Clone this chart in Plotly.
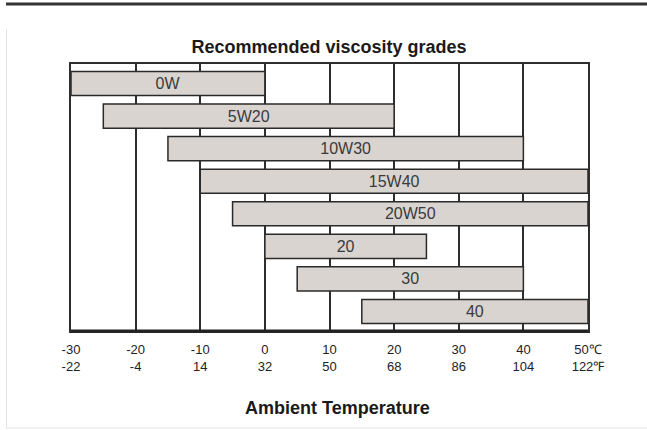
import plotly.graph_objects as go

grades = ["0W", "5W20", "10W30", "15W40", "20W50", "20", "30", "40"]
low_c = [-30, -25, -15, -10, -5, 0, 5, 15]
high_c = [0, 20, 40, 50, 50, 25, 40, 50]
tick_c = [-30, -20, -10, 0, 10, 20, 30, 40, 50]
tick_labels = ["-30<br>-22", "-20<br>-4", "-10<br>14", "0<br>32", "10<br>50",
               "20<br>68", "30<br>86", "40<br>104", "50℃<br>122℉"]

W, H = 647, 430
L, R, T, B = 71, 59, 64, 99
pw, ph = W - L - R, H - T - B

def px(x):
    return (x - L) / pw

def py(y):
    return (H - B - y) / ph

fig = go.Figure()
fig.add_trace(go.Bar(
    y=grades,
    x=[h - l for l, h in zip(low_c, high_c)],
    base=low_c,
    orientation="h",
    width=0.74,
    marker=dict(color="#d9d4d0", line=dict(color="#2a2a2a", width=1.5)),
    text=grades,
    textposition="inside",
    insidetextanchor="middle",
    constraintext="none",
    textangle=0,
    textfont=dict(family="Liberation Sans, Arial", size=16, color="#3a3a3a"),
    hoverinfo="skip",
))

fig.update_layout(
    width=W, height=H,
    margin=dict(l=L, r=R, t=T, b=B),
    paper_bgcolor="white",
    plot_bgcolor="white",
    showlegend=False,
    font=dict(family="Liberation Sans, Arial", color="#222222"),
    title=dict(text="<b>Recommended viscosity grades</b>", x=px(329), xref="paper",
               xanchor="center", y=1 - 47 / H, yref="container", yanchor="middle",
               font=dict(size=18, color="#1a1a1a")),
    xaxis=dict(range=[-30, 50], tickvals=tick_c, ticktext=tick_labels,
               showgrid=True, gridcolor="#2e2e2e", gridwidth=1.5,
               zeroline=False, showline=True, linecolor="#2e2e2e", linewidth=2,
               mirror=True, ticks="", ticklabelstandoff=5,
               tickfont=dict(size=13, color="#222222")),
    yaxis=dict(categoryorder="array", categoryarray=grades, range=[7.6, -0.6],
               showticklabels=False, showgrid=False, zeroline=False,
               showline=True, linecolor="#2e2e2e", linewidth=2, mirror=True, ticks=""),
    annotations=[dict(text="<b>Ambient Temperature</b>", xref="paper", yref="paper",
                      x=px(337), y=py(408), xanchor="center", yanchor="middle",
                      showarrow=False, font=dict(size=18, color="#1a1a1a"))],
    shapes=[
        dict(type="line", xref="paper", yref="paper", x0=px(6), x1=px(647),
             y0=py(4), y1=py(4), line=dict(color="#333333", width=3)),
        dict(type="line", xref="paper", yref="paper", x0=px(6.5), x1=px(6.5),
             y0=py(29), y1=py(428), line=dict(color="#e4e4e4", width=1)),
        dict(type="line", xref="paper", yref="paper", x0=px(6), x1=px(647),
             y0=py(428), y1=py(428), line=dict(color="#e4e4e4", width=1)),
        dict(type="line", xref="paper", yref="paper", x0=0, x1=1,
             y0=0, y1=0, line=dict(color="#222222", width=3)),
    ],
)

fig.write_html("out.html", config={"displayModeBar": False},
               post_script="document.body.style.margin='0';")
